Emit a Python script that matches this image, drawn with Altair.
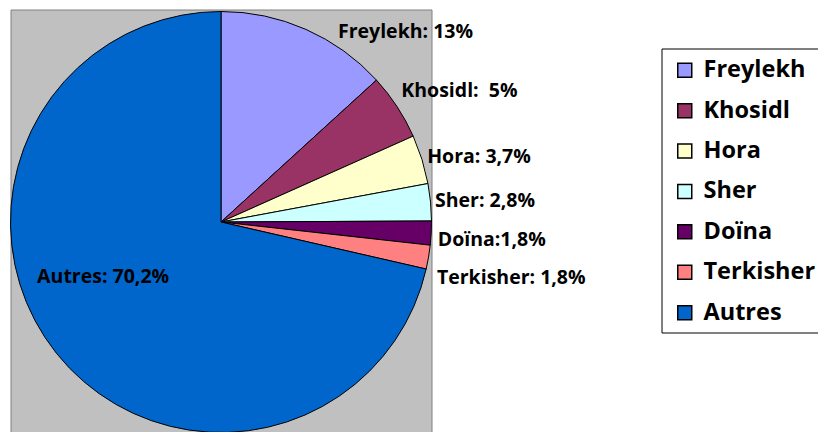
import altair as alt
import pandas as pd

categories = ["Freylekh", "Khosidl", "Hora", "Sher", "Doïna", "Terkisher", "Autres"]
values = [13, 5, 3.7, 2.8, 1.8, 1.8, 70.2]
labels = ["Freylekh: 13%", "Khosidl:\u00a0 5%", "Hora: 3,7%", "Sher: 2,8%",
          "Doïna:1,8%", "Terkisher: 1,8%", "Autres: 70,2%"]
colors = ["#9999FF", "#993366", "#FFFFCC", "#CCFFFF", "#660066", "#FF8080", "#0066CC"]

df = pd.DataFrame({
    "cat": categories,
    "value": values,
    "label": labels,
    "order": list(range(len(categories))),
})
one = pd.DataFrame({"k": [0]})

CX, CY, R = 213, 214, 210.5
FONT = "Open Sans"

bg = alt.Chart(one).mark_rect(fill="#C0C0C0", stroke="#808080", strokeWidth=1).encode(
    x=alt.value(3), x2=alt.value(424), y=alt.value(2), y2=alt.value(440)
)
legbox = alt.Chart(one).mark_rect(fill="white", stroke="black", strokeWidth=1).encode(
    x=alt.value(654), x2=alt.value(830), y=alt.value(41), y2=alt.value(325)
)

base = alt.Chart(df)
theta = alt.Theta("value:Q", stack=True)
order = alt.Order("order:Q")

pie = base.mark_arc(radius=R, stroke="black", strokeWidth=1).encode(
    theta=theta,
    order=order,
    color=alt.Color(
        "cat:N",
        sort=categories,
        scale=alt.Scale(domain=categories, range=colors),
        legend=alt.Legend(
            title=None, orient="none", legendX=665, legendY=50.5,
            symbolType="square", symbolSize=196, symbolStrokeColor="black",
            symbolStrokeWidth=1.5, symbolOpacity=1,
            labelFont=FONT, labelFontWeight="bold", labelFontSize=23.5,
            labelColor="black", labelOffset=7, rowPadding=15.4, padding=0,
        ),
    ),
    x=alt.value(CX), y=alt.value(CY),
)

# radius, dx, dy, align for each label
placement = {
    "Freylekh": (218, 29, 9, "left"),
    "Khosidl": (218, -2, -12, "left"),
    "Hora": (218, -2, 0, "left"),
    "Sher": (218, -3, 0, "left"),
    "Doïna": (218, -1, 7, "left"),
    "Terkisher": (218, 1, 20, "left"),
    "Autres": (129, -17, -25, "center"),
}

texts = []
for cat in categories:
    r, dx, dy, align = placement[cat]
    texts.append(
        base.mark_text(
            radius=r, dx=dx, dy=dy, align=align, baseline="middle",
            font=FONT, fontWeight="bold", fontSize=19.5, color="black",
        ).encode(
            theta=theta,
            order=order,
            text=alt.condition(alt.datum.cat == cat, "label:N", alt.value("")),
            x=alt.value(CX), y=alt.value(CY),
        )
    )

chart = alt.layer(bg, legbox, pie, *texts).properties(
    width=810, height=424, padding=0,
    autosize=alt.AutoSizeParams(type="none"),
    background="white",
).configure_view(strokeWidth=0)

chart.save("out.html", embed_options={"renderer": "svg", "actions": False})
